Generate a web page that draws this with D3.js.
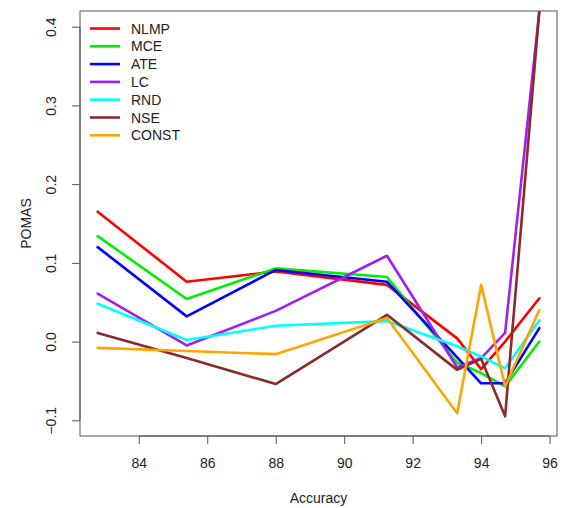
<!DOCTYPE html>
<html>
<head>
<meta charset="utf-8">
<script src="https://cdn.jsdelivr.net/npm/d3@7"></script>
<style>
  html, body { margin: 0; padding: 0; background: #fff; }
  svg { display: block; font-family: "Liberation Sans", Arial, sans-serif; }
</style>
</head>
<body>
<svg id="chart" width="568" height="508"></svg>
<script>
// Accuracy levels on the x axis
const accuracy = [82.8, 85.4, 88.0, 91.25, 93.3, 94.0, 94.7, 95.7];

// POMAS per method
const NLMP  = [0.165, 0.076, 0.089, 0.072, 0.004, -0.035, 0.000, 0.055];
const MCE   = [0.134, 0.054, 0.093, 0.082, -0.027, -0.040, -0.057, 0.000];
const ATE   = [0.120, 0.032, 0.091, 0.076, -0.020, -0.053, -0.053, 0.017];
const LC    = [0.061, -0.005, 0.039, 0.109, -0.033, -0.021, 0.011, 0.420];
const RND   = [0.048, 0.002, 0.020, 0.026, -0.006, -0.019, -0.034, 0.027];
const NSE   = [0.011, -0.021, -0.054, 0.034, -0.036, -0.022, -0.095, 0.420];
const CONST = [-0.008, -0.012, -0.016, 0.030, -0.091, 0.072, -0.057, 0.040];

const seriesNames  = ["NLMP", "MCE", "ATE", "LC", "RND", "NSE", "CONST"];
const seriesValues = [NLMP, MCE, ATE, LC, RND, NSE, CONST];
const seriesColors = ["#ff0000", "#00ee00", "#0000ff", "#a020f0", "#00ffff", "#8b2a2a", "#ffa500"];

const xTicks = [84, 86, 88, 90, 92, 94, 96];
const yTicks = [-0.1, 0.0, 0.1, 0.2, 0.3, 0.4];
const yLimits = [-0.1, 0.4];

// Plot region
const plot = { left: 80, right: 557, top: 11, bottom: 436 };

// R-style 4% range extension
function extend([a, b]) { const p = (b - a) * 0.04; return [a - p, b + p]; }

const x = d3.scaleLinear().domain(extend(d3.extent(accuracy))).range([plot.left, plot.right]);
const y = d3.scaleLinear().domain(extend(yLimits)).range([plot.bottom, plot.top]);

const svg = d3.select("#chart");
const textColor = "#222";

svg.append("defs").append("clipPath").attr("id", "plotClip")
  .append("rect")
  .attr("x", plot.left).attr("y", plot.top)
  .attr("width", plot.right - plot.left).attr("height", plot.bottom - plot.top);

// Series lines
const line = d3.line().x((d, i) => x(accuracy[i])).y(d => y(d));
const linesG = svg.append("g").attr("clip-path", "url(#plotClip)");
seriesValues.forEach((vals, k) => {
  linesG.append("path")
    .attr("d", line(vals))
    .attr("fill", "none")
    .attr("stroke", seriesColors[k])
    .attr("stroke-width", 2.6)
    .attr("stroke-linejoin", "round")
    .attr("stroke-linecap", "round");
});

// Box around plot
svg.append("rect")
  .attr("x", plot.left).attr("y", plot.top)
  .attr("width", plot.right - plot.left).attr("height", plot.bottom - plot.top)
  .attr("fill", "none").attr("stroke", "#555").attr("stroke-width", 1);

// X axis
const xAxis = d3.axisBottom(x).tickValues(xTicks).tickSize(8).tickPadding(14)
  .tickFormat(d3.format("d"));
const gx = svg.append("g").attr("transform", `translate(0,${plot.bottom})`).call(xAxis);
gx.select(".domain").attr("stroke", "#555")
  .attr("d", `M${x(xTicks[0])},0H${x(xTicks[xTicks.length - 1])}`);
gx.selectAll(".tick line").attr("stroke", "#555");
gx.selectAll(".tick text").attr("font-size", 14).attr("fill", textColor)
  .attr("font-family", "Liberation Sans, Arial, sans-serif");

// Y axis with rotated labels
const yAxis = d3.axisLeft(y).tickValues(yTicks).tickSize(8)
  .tickFormat(d3.format(".1f"));
const gy = svg.append("g").attr("transform", `translate(${plot.left},0)`).call(yAxis);
gy.select(".domain").attr("stroke", "#555")
  .attr("d", `M0,${y(yTicks[0])}V${y(yTicks[yTicks.length - 1])}`);
gy.selectAll(".tick line").attr("stroke", "#555");
gy.selectAll(".tick text")
  .attr("font-size", 14).attr("fill", textColor)
  .attr("font-family", "Liberation Sans, Arial, sans-serif")
  .attr("x", null).attr("dy", null)
  .attr("text-anchor", "middle")
  .attr("transform", `translate(${56 - plot.left},0) rotate(-90)`);

// Axis titles
svg.append("text")
  .attr("x", (plot.left + plot.right) / 2).attr("y", 503)
  .attr("text-anchor", "middle").attr("font-size", 14).attr("fill", textColor)
  .text("Accuracy");
svg.append("text")
  .attr("transform", `translate(31,${(plot.top + plot.bottom) / 2}) rotate(-90)`)
  .attr("text-anchor", "middle").attr("font-size", 14).attr("fill", textColor)
  .text("POMAS");

// Legend
const legend = svg.append("g");
seriesNames.forEach((name, k) => {
  const ly = 28.5 + k * 17.8;
  legend.append("line")
    .attr("x1", 90).attr("x2", 120).attr("y1", ly).attr("y2", ly)
    .attr("stroke", seriesColors[k]).attr("stroke-width", 2.6);
  legend.append("text")
    .attr("x", 131).attr("y", ly).attr("dy", "0.36em")
    .attr("font-size", 14).attr("fill", textColor)
    .text(name);
});
</script>
</body>
</html>
